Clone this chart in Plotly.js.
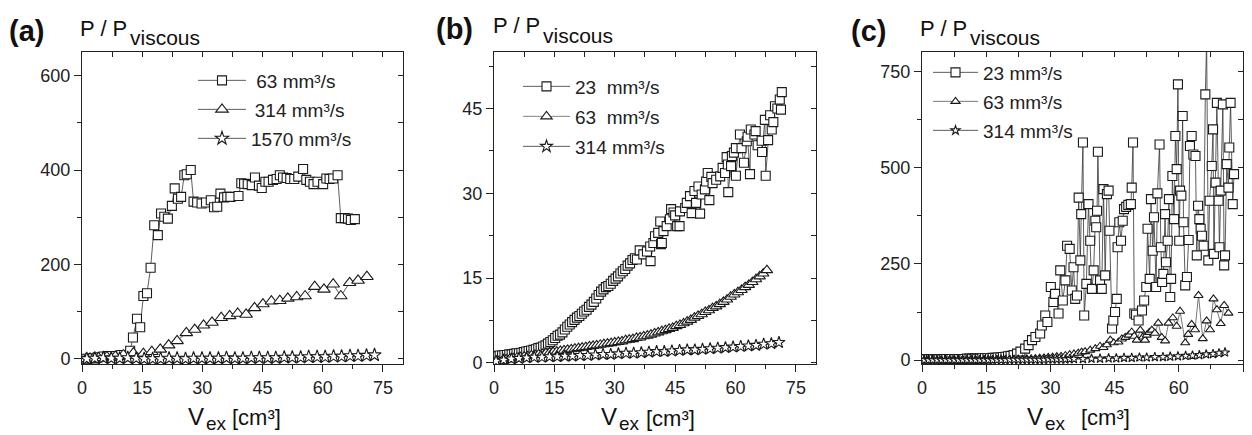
<!DOCTYPE html>
<html><head><meta charset="utf-8">
<script src="https://cdn.plot.ly/plotly-3.0.1.min.js"></script>
<style>html,body{margin:0;padding:0;background:#fff}#chart{width:1252px;height:435px}</style>
</head><body><div id="chart"></div>
<script>
// ---------- Panel (a) ----------
const a1Name = "\u00a063 mm\u00b3/s";
const a1x = [1.1,2.5,3.9,5.4,6.7,8.3,9.8,12.0,12.7,13.7,14.5,15.3,16.2,17.1,18.0,18.9,19.7,20.5,21.4,22.4,23.1,23.9,24.7,25.5,26.1,27.1,27.8,28.7,29.8,30.9,32.1,32.9,33.7,34.5,35.4,36.2,37.0,39.0,39.7,40.4,41.3,42.3,43.1,44.1,44.8,45.7,46.5,47.6,48.5,49.3,50.1,51.0,51.9,52.9,53.9,55.1,55.9,56.8,57.7,58.7,60.1,60.9,61.7,62.6,63.7,64.5,65.5,66.3,67.0,68.0];
const a1y = [0,1,3,5,6,6,8,17,45,85,67,133,139,193,283,262,308,301,297,324,361,339,343,389,391,400,333,331,329,331,336,321,322,350,342,343,343,345,372,371,370,368,384,367,362,375,375,379,381,389,384,383,381,381,386,402,379,375,370,375,370,382,381,382,389,298,298,297,294,296];
const a2Name = "\u2009314 mm\u00b3/s";
const a2x = [1.0,2.0,4.1,6.2,8.3,10.3,12.8,15.3,17.4,19.5,21.6,23.7,26.0,28.1,30.3,32.4,34.7,36.8,38.8,40.9,43.0,45.1,47.2,49.3,51.3,53.5,55.6,58.0,60.3,62.6,64.5,66.7,68.8,71.0];
const a2y = [0,1,2,4,5,8,12,11,15,20,29,38,55,62,71,77,87,91,96,94,108,116,122,123,128,131,133,153,147,158,133,161,166,174];
const a3Name = "1570 mm\u00b3/s";
const a3x = [1.2,3.2,5.3,7.3,9.4,11.4,13.5,15.5,17.6,19.6,21.7,23.7,25.8,27.8,29.9,31.9,34.0,36.0,38.1,40.1,42.2,44.2,46.3,48.3,50.4,52.4,54.5,56.5,58.6,60.6,62.7,64.7,66.8,68.8,70.9,72.9];
const a3y = [0,1,2,1,1,2,1,0,0,0,1,1,0,1,1,1,1,2,1,1,2,2,2,2,3,3,3,4,4,4,5,5,6,6,7,8];

// ---------- Panel (b) ----------
const b1Name = "23\u00a0\u00a0mm\u00b3/s";
const b1x = [0.2,0.8,1.4,2.0,2.6,3.2,3.8,4.4,5.0,5.6,6.2,6.8,7.4,8.0,8.6,9.2,9.8,10.4,11.0,11.6,12.2,12.8,13.4,14.0,14.6,15.2,15.8,16.4,17.0,17.6,18.2,18.8,19.4,20.0,20.6,21.2,21.8,22.4,23.0,23.6,24.2,24.8,25.4,26.0,26.6,27.2,27.8,
  28.4,29.0,29.6,30.2,30.8,31.4,32.0,32.6,33.2,33.8,34.4,35.0,35.5,36.2,37.1,38.0,38.8,38.9,39.6,40.0,40.8,41.3,41.5,41.7,42.1,42.9,43.7,44.0,44.6,45.0,45.5,46.1,46.2,47.5,47.9,48.7,49.1,49.8,50.2,50.8,51.2,51.6,52.4,52.7,53.1,53.5,54.0,54.3,55.2,56.2,56.8,57.4,57.8,58.1,58.2,58.9,59.1,59.6,60.1,60.1,61.1,61.5,62.1,62.8,63.0,63.6,63.8,64.7,65.0,65.5,66.5,66.6,67.3,67.5,68.1,68.6,69.0,69.4,69.8,70.4,71.0,71.3,71.5];
const b1y = [1.2,1.2,1.3,1.3,1.4,1.4,1.5,1.5,1.6,1.7,1.7,1.8,1.9,2.0,2.1,2.2,2.3,2.4,2.6,2.7,2.9,3.1,3.4,3.7,4.0,4.4,4.8,5.0,5.4,5.9,6.4,6.8,7.2,7.6,8.0,8.3,8.7,9.1,9.4,9.9,10.3,10.8,11.4,12.0,12.6,13.0,13.4,
  13.6,14.0,14.5,14.9,15.3,15.8,16.2,16.6,17.2,17.6,18.2,18.5,18.3,19.9,19.2,19.7,20.6,18.0,21.2,22.4,23.0,25.0,21.0,21.2,23.3,24.2,25.4,27.2,26.6,26.1,24.2,24.2,26.8,27.4,28.3,29.5,26.5,30.4,28.3,31.2,26.4,29.8,30.7,32.1,33.6,28.8,32.9,31.8,32.4,33.0,34.5,33.6,36.4,35.1,30.2,34.8,36.6,37.2,38.0,33.1,40.4,38.0,35.4,39.2,40.0,33.4,41.3,40.4,41.0,38.5,39.3,37.3,43.0,33.1,39.4,43.8,41.3,42.6,45.4,45.0,46.6,44.8,47.9];
const b2Name = "63\u00a0\u00a0mm\u00b3/s";
const b2x = [0.3,1.2,2.1,3.0,3.9,4.8,5.7,6.6,7.5,8.4,9.3,10.2,11.1,12.0,12.9,13.8,14.7,15.6,16.5,17.4,18.3,19.2,20.1,21.0,21.9,22.8,23.7,24.6,25.5,26.4,27.3,28.2,29.1,30.0,30.9,31.8,32.7,33.6,34.5,35.4,36.3,37.2,38.1,39.0,39.9,40.8,41.7,42.6,43.5,44.4,45.3,46.2,47.1,48.0,48.9,49.8,50.7,51.6,52.5,53.4,54.3,55.2,56.1,57.0,57.9,58.8,59.7,60.6,61.5,62.4,63.3,64.2,65.1,66.0,66.9,67.8];
const b2y = [0.1,0.3,0.4,0.6,0.7,0.8,0.9,1.0,1.1,1.2,1.3,1.4,1.5,1.6,1.7,1.8,1.9,2.0,2.1,2.2,2.3,2.4,2.5,2.6,2.7,2.8,2.9,3.0,3.1,3.2,3.3,3.4,3.5,3.6,3.7,3.8,4.0,4.1,4.2,4.4,4.5,4.7,4.8,5.0,5.2,5.4,5.6,5.8,6.0,6.2,6.5,6.7,7.0,7.3,7.6,8.0,8.3,8.6,9.0,9.3,9.7,10.0,10.4,10.8,11.2,11.7,12.1,12.5,12.9,13.4,13.8,14.3,14.8,15.3,15.8,16.4];
const b3Name = "314 mm\u00b3/s";
const b3x = [0.5,2.4,4.3,6.2,8.1,10.0,11.9,13.8,15.7,17.6,19.5,21.4,23.3,25.2,27.1,29.0,30.9,32.8,34.7,36.6,38.5,40.4,42.3,44.2,46.1,48.0,49.9,51.8,53.7,55.6,57.5,59.4,61.3,63.2,65.1,67.0,68.9,70.8];
const b3y = [0.3,0.5,0.7,0.8,0.9,1.0,1.0,1.1,1.1,1.2,1.2,1.3,1.3,1.4,1.5,1.5,1.6,1.7,1.7,1.8,1.9,2.0,2.0,2.1,2.2,2.3,2.3,2.4,2.5,2.6,2.7,2.8,2.9,3.0,3.1,3.3,3.4,3.6];

// ---------- Panel (c) ----------
const c1Name = "23 mm\u00b3/s";
const c1x = [0.3,0.9,1.5,2.1,2.7,3.3,3.9,4.5,5.1,5.7,6.3,6.9,7.5,8.1,8.7,9.3,9.9,10.5,11.1,11.7,12.3,12.9,13.5,14.1,14.7,15.3,15.9,16.5,17.1,17.7,18.3,18.9,19.5,20.1,20.7,
  21.4,22.2,23.0,24.1,24.9,25.7,26.5,27.6,28.0,28.8,29.3,30.1,30.7,31.1,31.9,32.3,32.9,33.5,33.9,34.5,35.0,35.4,35.8,36.2,36.6,37.0,37.2,37.6,37.9,38.4,38.9,39.3,39.7,40.1,40.5,40.7,40.9,41.1,41.6,42.0,42.4,42.8,43.2,43.6,43.8,44.4,44.7,45.1,45.5,45.7,46.1,46.5,46.9,47.2,47.7,48.2,48.8,49.0,49.3,49.6,50.0,50.6,51.4,51.9,52.4,52.7,53.2,53.5,53.9,54.2,54.7,55.0,55.5,55.8,56.1,56.4,56.8,57.0,57.4,57.7,58.0,58.2,58.5,58.9,59.2,59.5,59.8,60.1,60.3,60.6,60.9,61.1,61.5,61.9,62.3,62.6,63.0,63.4,63.9,64.2,64.5,64.8,65.1,65.4,65.8,66.2,66.5,66.9,67.2,67.7,68.0,68.2,68.6,68.9,69.3,69.5,69.8,70.3,70.6,70.8,71.2,71.6,71.8,72.1,72.6,72.9];
const c1y = [2,2,2,2,2,2,2,2,3,3,3,3,3,3,3,3,3,4,4,4,4,4,4,5,5,5,5,6,6,7,7,8,9,10,11,
  13,17,22,30,39,52,60,69,90,116,99,190,151,172,121,233,155,207,297,289,181,241,159,168,422,259,379,565,116,198,405,310,185,233,362,345,388,541,207,185,444,220,431,440,336,82,103,125,159,293,358,310,362,392,398,403,405,448,565,121,118,103,129,155,190,341,211,418,284,371,190,433,560,293,203,224,379,254,310,418,164,211,478,366,582,496,716,310,440,427,634,358,194,216,312,556,582,534,530,272,401,366,341,323,297,690,830,259,414,504,599,276,461,668,414,293,440,664,246,272,509,448,552,668,405,483];
const c2Name = "63 mm\u00b3/s";
const c2x = [0.5,1.5,2.5,3.5,4.5,5.5,6.5,7.5,8.5,9.5,10.5,11.5,12.5,13.5,14.5,15.5,16.5,17.5,18.5,19.5,20.5,21.5,22.5,23.5,24.5,25.5,26.5,27.5,28.5,29.5,30.5,31.5,32.5,33.5,34.5,35.5,36.5,37.3,
  38.1,39.3,40.5,41.6,42.4,43.2,44.0,44.8,45.9,46.7,47.5,48.3,49.0,49.6,50.2,51.0,51.6,52.1,52.5,53.1,53.7,54.4,55.2,56.0,56.8,57.6,58.6,59.5,60.3,61.5,62.2,63.0,63.8,64.6,65.6,66.5,67.3,68.1,68.9,69.8,70.6,71.6];
const c2y = [0,0,0,0,0,0,1,1,1,1,1,1,1,1,1,1,1,1,2,2,2,2,2,2,3,3,4,5,6,7,8,9,10,12,14,16,18,21,
  22,26,30,36,33,40,52,45,47,55,59,65,73,62,52,78,60,52,65,72,78,70,96,59,50,96,110,88,127,45,67,93,79,168,56,102,79,159,131,95,142,122];
const c3Name = "314 mm\u00b3/s";
const c3x = [0.5,1.5,2.5,3.5,4.5,5.5,6.5,7.5,8.5,9.5,10.5,11.5,12.5,13.5,14.5,15.5,16.5,17.5,18.5,19.5,20.5,21.5,22.5,23.5,24.5,25.5,26.5,27.5,28.5,29.5,30.5,31.5,32.5,33.5,34.5,35.5,37.6,39.6,41.6,43.6,45.4,47.2,49.0,50.8,52.5,54.4,56.3,58.0,59.8,61.6,63.2,64.8,66.4,68.0,69.4,70.8];
const c3y = [0,0,0,0,0,0,0,0,0,0,0,0,0,0,0,0,0,0,0,0,1,1,1,1,1,1,1,1,1,2,2,2,2,2,3,3,3,4,4,5,5,6,6,7,7,8,8,9,10,11,12,13,15,16,18,20];

const xTickVals = [0,15,30,45,60,75];

// ---------- build ----------
const W = 1252, H = 435;
const FONT = "Liberation Sans, Arial, Helvetica, sans-serif";
const px = v => v / W;
const py = v => 1 - v / H;

function tr(x, y, name, sym, size, ax, ay, leg, lc) {
  return {
    type: 'scatter', mode: 'lines+markers', x: x, y: y, name: name,
    xaxis: ax, yaxis: ay, legend: leg, cliponaxis: true,
    line: {color: lc || '#333', width: 0.8},
    marker: {symbol: sym, size: size, color: '#ffffff', line: {color: '#1a1a1a', width: 1.1}}
  };
}
function dummy(ax, ay) {
  return {type: 'scatter', mode: 'markers', x: [], y: [], xaxis: ax, yaxis: ay, showlegend: false, hoverinfo: 'skip'};
}

const data = [
  tr(a1x, a1y, a1Name, 'square', 9, 'x', 'y', 'legend'),
  tr(a2x, a2y, a2Name, 'triangle-up', 11, 'x', 'y', 'legend2'),
  tr(a3x, a3y, a3Name, 'star', 10, 'x', 'y', 'legend3'),
  tr(b1x, b1y, b1Name, 'square', 9, 'x2', 'y2', 'legend4'),
  tr(b2x, b2y, b2Name, 'triangle-up', 10, 'x2', 'y2', 'legend5', '#666'),
  tr(b3x, b3y, b3Name, 'star', 9, 'x2', 'y2', 'legend6'),
  tr(c1x, c1y, c1Name, 'square', 9, 'x3', 'y3', 'legend7'),
  tr(c2x, c2y, c2Name, 'triangle-up', 8, 'x3', 'y3', 'legend8', '#555'),
  tr(c3x, c3y, c3Name, 'star', 7, 'x3', 'y3', 'legend9'),
  dummy('x4', 'y'), dummy('x5', 'y2'), dummy('x6', 'y3'),
  dummy('x', 'y4'), dummy('x2', 'y5'), dummy('x3', 'y6')
];

const tickfont = {family: FONT, size: 18, color: '#222'};
function xax(dom, range, anchor) {
  return {domain: dom, range: range, anchor: anchor, tickmode: 'array', tickvals: xTickVals,
    ticks: 'outside', ticklen: 7, tickwidth: 1, tickcolor: '#222',
    minor: {ticks: 'outside', ticklen: 4, tickwidth: 1, tickcolor: '#222', dtick: 7.5, tick0: 0, showgrid: false},
    showline: true, mirror: true, linecolor: '#222', linewidth: 1,
    showgrid: false, zeroline: false, tickfont: tickfont, fixedrange: true};
}
function yax(dom, range, anchor, dt) {
  return {domain: dom, range: range, anchor: anchor, tick0: 0, dtick: dt,
    ticks: 'outside', ticklen: 7, tickwidth: 1, tickcolor: '#222',
    minor: {ticks: 'outside', ticklen: 4, tickwidth: 1, tickcolor: '#222', dtick: dt / 2, tick0: 0, showgrid: false},
    showline: true, mirror: true, linecolor: '#222', linewidth: 1,
    showgrid: false, zeroline: false, tickfont: tickfont, fixedrange: true};
}
function topax(over, range, anchor, dt) {
  return {overlaying: over, side: 'top', anchor: anchor, range: range, tick0: 0, dtick: dt,
    ticks: 'inside', ticklen: 5, tickwidth: 1, tickcolor: '#222', showticklabels: false,
    showline: false, showgrid: false, zeroline: false, fixedrange: true};
}
function rightax(over, range, anchor, dt) {
  return {overlaying: over, side: 'right', anchor: anchor, range: range, tick0: 0, dtick: dt,
    ticks: 'inside', ticklen: 5, tickwidth: 1, tickcolor: '#222', showticklabels: false,
    showline: false, showgrid: false, zeroline: false, fixedrange: true};
}

const yDom = [py(364), py(52)];
const rA = {x: [0, 80], y: [-11, 650]};
const rB = {x: [0, 80], y: [-0.2, 55]};
const rC = {x: [0, 75], y: [-10, 800]};

function ann(text, x, yc, size, bold, anchor) {
  return {text: bold ? '<b>' + text + '</b>' : text, xref: 'paper', yref: 'paper',
    x: px(x), y: py(yc), xanchor: 'left', yanchor: anchor || 'middle', showarrow: false,
    borderpad: 0, font: {family: FONT, size: size, color: '#111'}};
}

const annotations = [
  ann('(a)', 8, 31, 29, true), ann('P / P', 79, 29, 22), ann('viscous', 129, 37.7, 21),
  ann('(b)', 435, 29.5, 29, true), ann('P / P', 492, 25.6, 22), ann('viscous', 542, 35.3, 21),
  ann('(c)', 850, 31, 29, true), ann('P / P', 919, 29, 22), ann('viscous', 969, 37.7, 21),
  ann('V', 187, 416, 24), ann('ex', 205, 435, 19, false, 'bottom'), ann('[cm\u00b3]', 231, 417.5, 22),
  ann('V', 600, 416.5, 24), ann('ex', 618, 435, 19, false, 'bottom'), ann('[cm\u00b3]', 645, 418, 22),
  ann('V', 1026, 416, 24), ann('ex', 1044, 435, 19, false, 'bottom'), ann('[cm\u00b3]', 1080, 417.5, 22)
];

function leg(x, rowCenter, iw) {
  return {x: px(x), y: py(rowCenter - 18.5), xanchor: 'left', yanchor: 'top', bgcolor: 'rgba(0,0,0,0)',
    borderwidth: 0, font: {family: FONT, size: 19, color: '#222'}, tracegroupgap: 0,
    itemwidth: iw, itemclick: false};
}

const layout = {
  width: W, height: H, margin: {l: 0, r: 0, t: 0, b: 0},
  paper_bgcolor: '#ffffff', plot_bgcolor: '#ffffff',
  font: {family: FONT, color: '#222'},
  showlegend: true,
  xaxis: xax([px(82), px(403)], rA.x, 'y'),
  yaxis: yax(yDom, rA.y, 'x', 200),
  xaxis2: xax([px(494), px(816)], rB.x, 'y2'),
  yaxis2: yax(yDom, rB.y, 'x2', 15),
  xaxis3: xax([px(922), px(1243)], rC.x, 'y3'),
  yaxis3: yax(yDom, rC.y, 'x3', 250),
  xaxis4: topax('x', rA.x, 'y', 7.5),
  xaxis5: topax('x2', rB.x, 'y2', 7.5),
  xaxis6: topax('x3', rC.x, 'y3', 7.5),
  yaxis4: rightax('y', rA.y, 'x', 100),
  yaxis5: rightax('y2', rB.y, 'x2', 7.5),
  yaxis6: rightax('y3', rC.y, 'x3', 125),
  legend: leg(193, 80, 48),
  legend2: leg(193, 109, 48),
  legend3: leg(193, 138, 48),
  legend4: leg(518, 86, 47),
  legend5: leg(518, 116, 47),
  legend6: leg(518, 146, 47),
  legend7: leg(928, 72, 45),
  legend8: leg(928, 101, 45),
  legend9: leg(928, 130, 45),
  annotations: annotations
};

Plotly.newPlot('chart', data, layout, {displayModeBar: false, staticPlot: true});
</script></body></html>
